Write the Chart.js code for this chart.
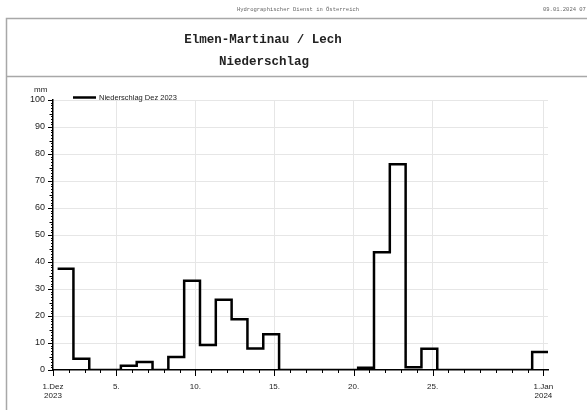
<!DOCTYPE html>
<html>
<head>
<meta charset="utf-8">
<script src="https://cdn.jsdelivr.net/npm/chart.js@4/dist/chart.umd.min.js"></script>
<style>
  html, body { margin: 0; padding: 0; background: #fff; }
  #grafica { display: block; }
</style>
</head>
<body>
<canvas id="grafica" width="587" height="410"></canvas>
<script>
// Tagessummen Niederschlag Dez 2023 (mm), Messtermin 07:00
const tage = [1, 2, 3, 4, 5, 6, 7, 8, 9, 10, 11, 12, 13, 14, 15, 16,
  17, 18, 19, 20, 21, 22, 23, 24, 25, 26, 27, 28, 29, 30, 31];
const niederschlag = [37.5, 4.2, 0, 0, 1.6, 3.0, 0, 4.8, 33.1, 9.3, 26.0, 18.8, 8.0, 13.2, 0, 0,
  0, 0, 0, 0.8, 43.6, 76.2, 1.0, 7.9, 0, 0, 0, 0, 0, 0, 6.7];
const yTicks = [0, 10, 20, 30, 40, 50, 60, 70, 80, 90, 100];
const xLabels = { 0: ['1.Dez', '2023'], 4: '5.', 9: '10.', 14: '15.', 19: '20.', 24: '25.', 31: ['1.Jan', '2024'] };
const messstunde = 7 / 24;

// Punkte: Wert gilt ab 07:00 des Tages bis 07:00 am Folgetag
const punkte = tage.map((t, i) => ({ x: t - 1 + messstunde, y: niederschlag[i] }));
punkte.push({ x: tage.length + messstunde, y: niederschlag[niederschlag.length - 1] });

const rahmen = {
  id: 'rahmen',
  beforeDraw(chart) {
    const c = chart.ctx;
    c.save();
    c.fillStyle = '#fff';
    c.fillRect(0, 0, chart.width, chart.height);
    c.strokeStyle = '#a8a8a8';
    c.lineWidth = 1.5;
    c.strokeRect(6.5, 18.5, 620, 420);
    c.beginPath();
    c.moveTo(6, 76.5);
    c.lineTo(587, 76.5);
    c.stroke();
    c.fillStyle = '#666';
    c.font = '5.5px "Liberation Mono"';
    c.textAlign = 'center';
    c.textBaseline = 'middle';
    c.fillText('Hydrographischer Dienst in Österreich', 298, 10);
    c.textAlign = 'left';
    c.fillText('09.01.2024 07:52', 543, 10);
    c.fillStyle = '#222';
    c.textAlign = 'center';
    c.font = 'bold 12.5px "Liberation Mono"';
    c.fillText('Elmen-Martinau / Lech', 263, 40);
    c.fillText('Niederschlag', 264, 62);
    c.restore();
  },
  afterDraw(chart) {
    const c = chart.ctx;
    const x = chart.scales.x, y = chart.scales.y;
    c.save();
    c.strokeStyle = '#000';
    c.lineWidth = 1;
    for (let d = 0; d <= 31; d++) {
      const px = Math.round(x.getPixelForValue(d)) + 0.5;
      const len = (d in xLabels) ? 6 : 3;
      c.beginPath();
      c.moveTo(px, y.bottom);
      c.lineTo(px, y.bottom + len);
      c.stroke();
    }
    for (let v = 0; v <= 100; v++) {
      const py = Math.round(y.getPixelForValue(v)) + 0.5;
      const len = v % 10 === 0 ? 5 : (v % 5 === 0 ? 3.5 : 2);
      c.beginPath();
      c.moveTo(x.left - len, py);
      c.lineTo(x.left, py);
      c.stroke();
    }
    c.fillStyle = '#222';
    c.font = '8px "Liberation Sans"';
    c.textAlign = 'left';
    c.textBaseline = 'middle';
    c.fillText('mm', 34, 90);
    // Legende
    const ds = chart.data.datasets[0];
    c.lineWidth = 2.5;
    c.beginPath();
    c.moveTo(73, 97.5);
    c.lineTo(96, 97.5);
    c.stroke();
    c.font = '7.5px "Liberation Sans"';
    c.fillText(ds.label, 99, 97.5);
    c.restore();
  }
};

const ctx = document.getElementById('grafica').getContext('2d');
new Chart(ctx, {
  type: 'line',
  data: {
    datasets: [{
      label: 'Niederschlag Dez 2023',
      data: punkte,
      stepped: true,
      borderColor: '#000',
      borderWidth: 2.5,
      pointRadius: 0,
      fill: false
    }]
  },
  options: {
    responsive: false,
    animation: false,
    layout: { padding: { top: 100, right: 39, bottom: 0, left: 0 } },
    plugins: { legend: { display: false }, tooltip: { enabled: false } },
    scales: {
      x: {
        type: 'linear',
        min: 0,
        max: 31 + messstunde,
        afterBuildTicks(scale) {
          scale.ticks = tage.map(t => ({ value: t - 1 })).concat([{ value: 31 }]);
        },
        afterFit(scale) { scale.height = 40; },
        ticks: {
          autoSkip: false,
          maxRotation: 0,
          padding: 12,
          color: '#222',
          font: { family: 'Liberation Sans', size: 8, lineHeight: 1.15 },
          callback: v => xLabels[v] || ''
        },
        grid: {
          drawTicks: false,
          color: c => (c.tick && c.tick.value in xLabels && c.tick.value !== 0) ? '#e6e6e6' : 'rgba(0,0,0,0)',
          lineWidth: 1
        },
        border: { display: true, color: '#000', width: 1.5 }
      },
      y: {
        min: 0,
        max: 100,
        afterBuildTicks(scale) {
          const t = [];
          for (let v = 0; v <= 100; v += 2) t.push({ value: v });
          scale.ticks = t;
        },
        afterFit(scale) { scale.width = 53; },
        ticks: {
          autoSkip: false,
          padding: 8,
          color: '#222',
          font: { family: 'Liberation Sans', size: 9 },
          callback: v => yTicks.includes(v) ? String(v) : ''
        },
        grid: {
          drawTicks: false,
          color: c => (c.tick && yTicks.includes(c.tick.value) && c.tick.value !== 0) ? '#e6e6e6' : 'rgba(0,0,0,0)',
          lineWidth: 1
        },
        border: { display: true, color: '#000', width: 1.5 }
      }
    }
  },
  plugins: [rahmen]
});
</script>
</body>
</html>
